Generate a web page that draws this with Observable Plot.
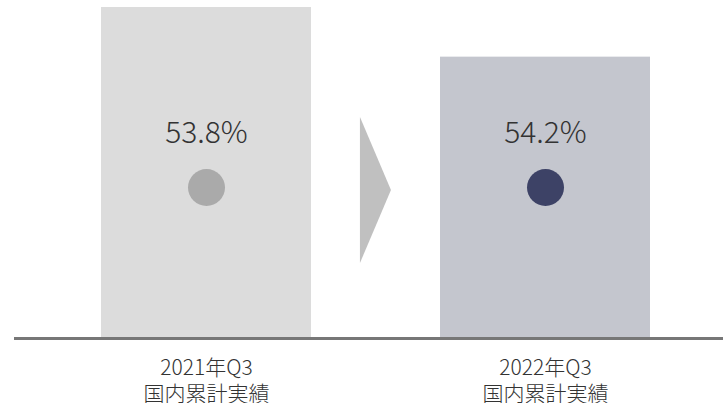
<!DOCTYPE html>
<html>
<head>
<meta charset="utf-8">
<script src="https://cdn.jsdelivr.net/npm/d3@7"></script>
<script src="https://cdn.jsdelivr.net/npm/@observablehq/plot@0.6"></script>
<style>
  html, body { margin: 0; padding: 0; background: #fff; }
  #chart svg { display: block; }
</style>
</head>
<body>
<div id="chart"></div>
<script>
const periods = ["2021年Q3", "2022年Q3"];
const subLabel = "国内累計実績";
const barValues = [100, 85];
const shareLabels = ["53.8%", "54.2%"];
const barColors = ["#dcdcdc", "#c4c6ce"];
const dotColors = ["#aaaaaa", "#3d4266"];

const data = periods.map((p, i) => ({
  period: p,
  value: barValues[i],
  share: shareLabels[i],
  barColor: barColors[i],
  dotColor: dotColors[i]
}));

const font = "'Noto Sans CJK JP', 'Noto Sans', sans-serif";

const chart = Plot.plot({
  width: 723,
  height: 403,
  marginTop: 7,
  marginBottom: 65,
  marginLeft: 14,
  marginRight: 0,
  style: { fontFamily: font, background: "#fff" },
  x: { domain: periods, paddingInner: 0.3794, paddingOuter: 0.2324, align: 0.544, axis: null },
  y: { domain: [0, 100], axis: null },
  marks: [
    Plot.barY(data, { x: "period", y: "value", fill: "barColor" }),
    Plot.ruleY([0], { stroke: "#777777", strokeWidth: 3 }),
    Plot.text(data, {
      x: "period", text: "share", frameAnchor: "top", lineAnchor: "middle", dy: 126,
      fontSize: 30, fontWeight: 300, fill: "#333333"
    }),
    Plot.dot(data, {
      x: "period", frameAnchor: "top", dy: 180, r: 18.5, fill: "dotColor", stroke: null
    }),
    Plot.text(data, {
      x: "period", text: d => d.period + "\n" + subLabel,
      frameAnchor: "bottom", lineAnchor: "middle", dy: 41, lineHeight: 1.22,
      fontSize: 21, fontWeight: 300, fill: "#333333"
    })
  ]
});

// arrow between the two bars, placed from the x scale
const xs = chart.scale("x");
const xf = d3.scaleBand().domain(xs.domain).range(xs.range)
  .paddingInner(xs.paddingInner).paddingOuter(xs.paddingOuter).align(xs.align);
const leftEnd = xf(periods[0]) + xf.bandwidth();
const rightStart = xf(periods[1]);
const cx = (leftEnd + rightStart) / 2;
const cy = 190, w = 31, h = 146;
d3.select(chart).insert("path", "g[aria-label='rule']")
  .attr("d", `M${cx - w / 2},${cy - h / 2}L${cx + w / 2},${cy}L${cx - w / 2},${cy + h / 2}Z`)
  .attr("fill", "#c0c0c0");

document.getElementById("chart").appendChild(chart);
</script>
</body>
</html>
